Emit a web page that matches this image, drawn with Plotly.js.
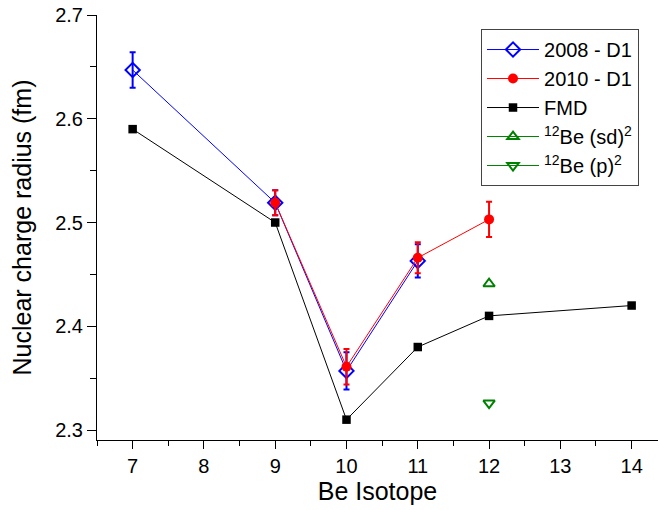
<!DOCTYPE html>
<html><head><meta charset="utf-8">
<script src="https://cdn.plot.ly/plotly-3.0.1.min.js"></script>
<style>body{margin:0;}#c{width:659px;height:510px;}</style>
</head><body><div id="c"></div>
<script>
const x2008 = [7, 9, 10, 11];
const y2008 = [2.647, 2.519, 2.357, 2.463];
const e2008 = [0.017, 0.012, 0.018, 0.016];
const x2010 = [9, 10, 11, 12];
const y2010 = [2.519, 2.361, 2.466, 2.503];
const e2010 = [0.012, 0.017, 0.015, 0.017];
const xFMD = [7, 9, 10, 11, 12, 14];
const yFMD = [2.59, 2.50, 2.31, 2.38, 2.41, 2.42];
const xSd = [12], ySd = [2.441];
const xP = [12], yP = [2.326];
const xTicks = [7, 8, 9, 10, 11, 12, 13, 14];
const yTicks = [2.3, 2.4, 2.5, 2.6, 2.7];

const font = 'Liberation Sans, Arial, sans-serif';
const traces = [
  {x: xFMD, y: yFMD, name: 'FMD', mode: 'lines+markers', type: 'scatter',
   line: {color: '#000', width: 1}, marker: {symbol: 'square', size: 8.5, color: '#000'}},
  {x: x2008, y: y2008, name: '2008 - D1', mode: 'lines+markers', type: 'scatter',
   error_y: {type: 'data', array: e2008, color: '#0000ff', thickness: 2, width: 3},
   line: {color: '#0000ff', width: 1},
   marker: {symbol: 'diamond-open', size: 11, color: '#0000ff', line: {width: 2, color: '#0000ff'}}},
  {x: x2010, y: y2010, name: '2010 - D1', mode: 'lines+markers', type: 'scatter',
   error_y: {type: 'data', array: e2010, color: '#ff0000', thickness: 2, width: 3},
   line: {color: '#ff0000', width: 1},
   marker: {symbol: 'circle', size: 10, color: '#ff0000'}},
  {x: xSd, y: ySd, name: '<sup>12</sup>Be (sd)<sup>2</sup>', mode: 'lines+markers', type: 'scatter',
   line: {color: '#008000', width: 1},
   marker: {symbol: 'triangle-up-open', size: 10, color: '#008000', line: {width: 2, color: '#008000'}}},
  {x: xP, y: yP, name: '<sup>12</sup>Be (p)<sup>2</sup>', mode: 'lines+markers', type: 'scatter',
   line: {color: '#008000', width: 1},
   marker: {symbol: 'triangle-down-open', size: 10, color: '#008000', line: {width: 2, color: '#008000'}}}
];
const legendOrder = [1, 2, 0, 3, 4];
traces.forEach((t, i) => { t.legendrank = legendOrder.indexOf(i) + 1; });

const layout = {
  width: 659, height: 510,
  margin: {l: 97, r: 1, t: 15, b: 70},
  paper_bgcolor: '#fff', plot_bgcolor: '#fff',
  font: {family: font, size: 20, color: '#000'},
  showlegend: true,
  legend: {x: 0.6845, y: 0.967, xanchor: 'left', yanchor: 'top',
    bordercolor: '#444', borderwidth: 1, bgcolor: '#fff',
    font: {family: font, size: 20}, tracegroupgap: 0, itemwidth: 52},
  xaxis: {range: [6.5, 14.37], tickvals: xTicks, ticktext: xTicks.map(String),
    ticks: 'outside', ticklen: 8, tickwidth: 1, tickcolor: '#000',
    minor: {tickmode: 'linear', dtick: 0.5, tick0: 6.5, ticks: 'outside', ticklen: 5, tickcolor: '#000'},
    showline: true, linecolor: '#000', linewidth: 1, showgrid: false, zeroline: false,
    tickfont: {size: 20},
    title: {text: 'Be Isotope', font: {size: 25}, standoff: 3}},
  xaxis2: {range: [6.5, 14.37], overlaying: 'x', side: 'top', tickvals: xTicks,
    showticklabels: false, ticks: 'inside', ticklen: 8, tickcolor: '#000',
    minor: {tickmode: 'linear', dtick: 0.5, tick0: 6.5, ticks: 'inside', ticklen: 5, tickcolor: '#000'},
    showline: true, linecolor: '#000', showgrid: false, zeroline: false},
  yaxis: {range: [2.2904, 2.7], tickvals: yTicks, ticktext: yTicks.map(v => v.toFixed(1)),
    ticks: 'outside', ticklen: 9, tickwidth: 1, tickcolor: '#000',
    minor: {tickmode: 'linear', dtick: 0.05, tick0: 2.3, ticks: 'outside', ticklen: 6, tickcolor: '#000'},
    showline: true, linecolor: '#000', linewidth: 1, showgrid: false, zeroline: false},
};
layout.yaxis.tickfont = {size: 20};
layout.yaxis.title = {text: 'Nuclear charge radius (fm)', font: {size: 25}, standoff: 16};
Plotly.newPlot('c', traces, layout, {displayModeBar: false});
</script></body></html>
